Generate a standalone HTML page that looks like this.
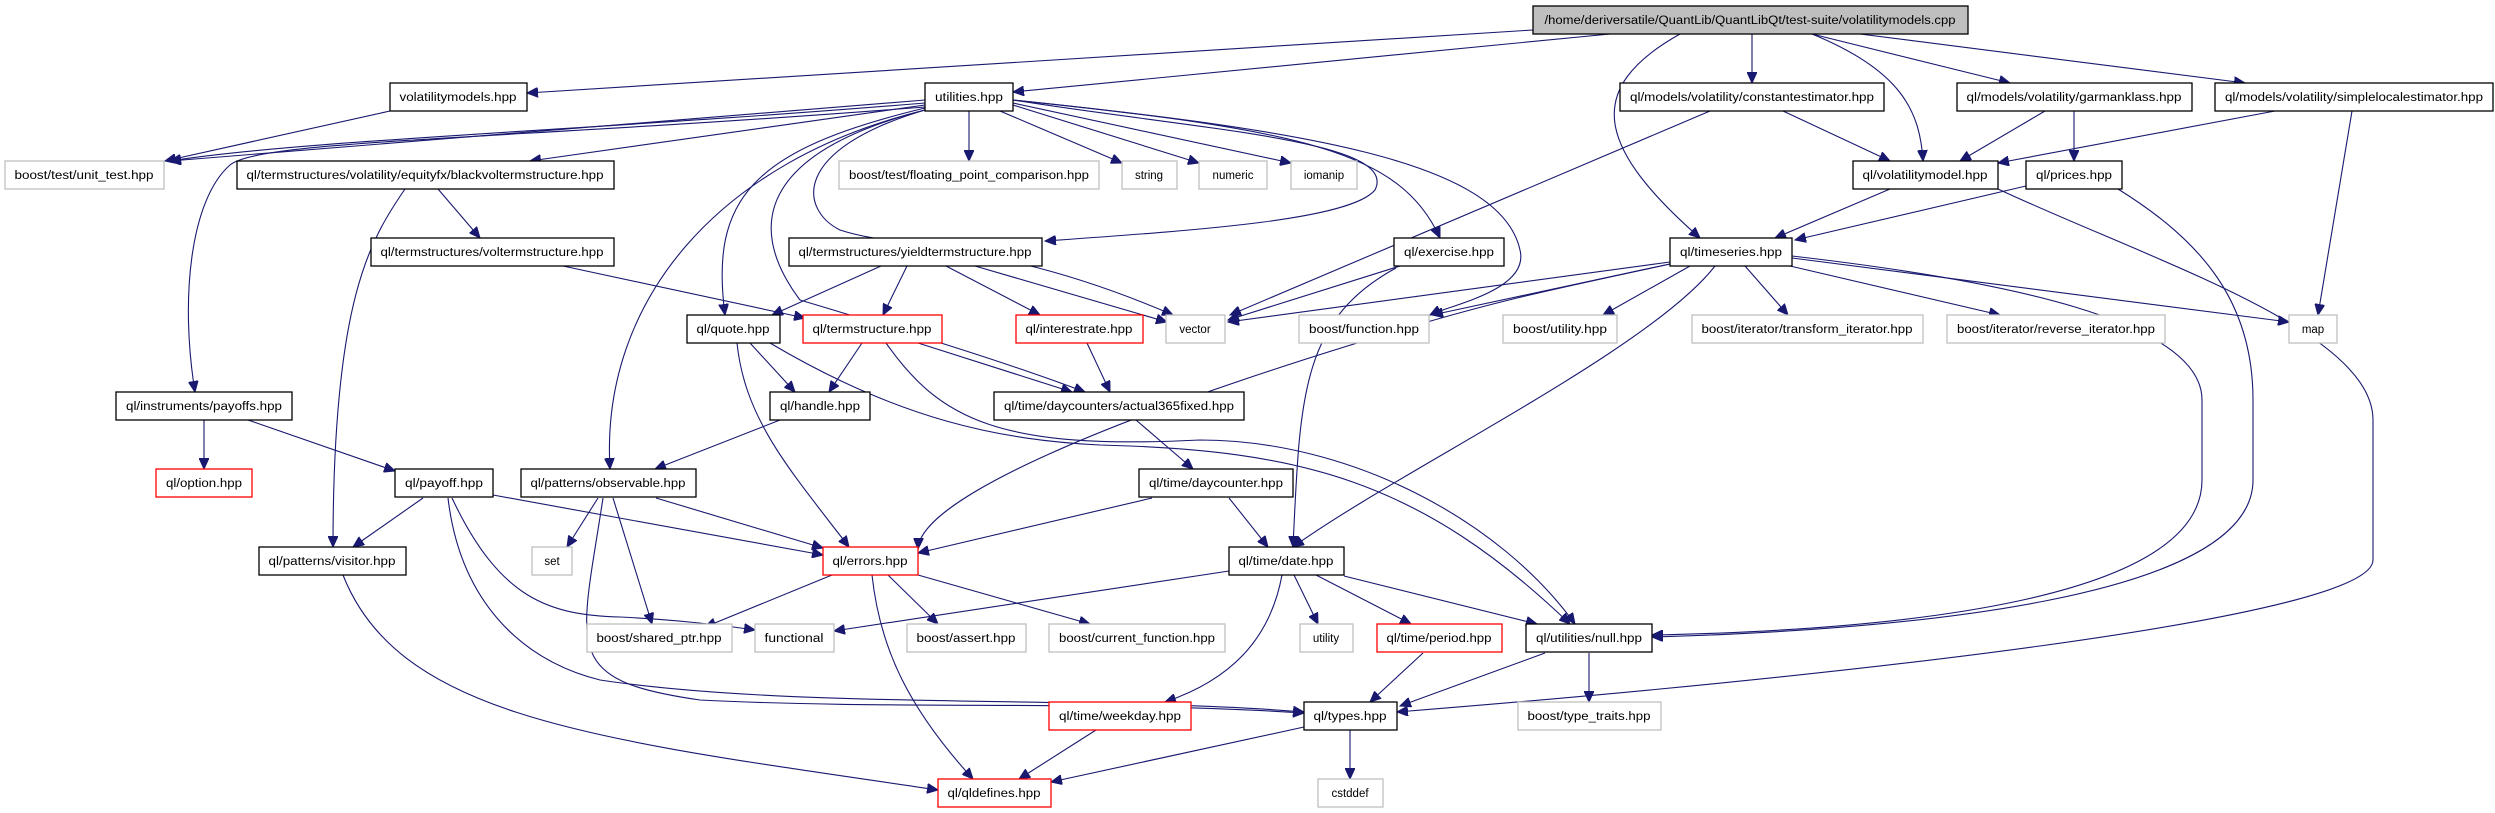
<!DOCTYPE html>
<html><head><meta charset="utf-8"><style>
html,body{margin:0;padding:0;background:#fff;}
svg{display:block;}
text{font-family:"Liberation Sans",sans-serif;font-size:11.5px;fill:#000;text-anchor:middle;}
.b{fill:#fff;stroke:#000;stroke-width:1.3;}
.g{fill:#fff;stroke:#bfbfbf;stroke-width:1.3;}
.r{fill:#fff;stroke:#ff0000;stroke-width:1.3;}
.e{fill:none;stroke:#191970;stroke-width:1.1;}
</style></head><body>
<svg width="2495" height="813" viewBox="0 0 2495 813" xmlns="http://www.w3.org/2000/svg">
<defs><marker id="a" markerUnits="userSpaceOnUse" markerWidth="12" markerHeight="10" refX="11" refY="5" orient="auto"><path d="M0,0 L11,5 L0,10 z" fill="#191970" stroke="#191970"/></marker></defs>
<g class="e" marker-end="url(#a)">
<path d="M1533,30 L527,93"/>
<path d="M1610,34 L1013,92"/>
<path d="M1680,34 C1580,90 1600,150 1700,238"/>
<path d="M1752,34 L1752,83"/>
<path d="M1812,34 C1900,70 1920,110 1923,161"/>
<path d="M1812,34 L2010,83"/>
<path d="M1860,34 L2245,83"/>
<path d="M390,111 L165,161"/>
<path d="M925,100 L170,161"/>
<path d="M925,103 C600,130 300,140 170,161"/>
<path d="M925,105 L530,161"/>
<path d="M925,107 C500,140 260,140 230,165 C190,200 180,300 195,392"/>
<path d="M925,108 C750,150 710,200 725,315"/>
<path d="M925,110 C720,160 600,300 610,469"/>
<path d="M925,110 C770,150 740,220 800,300 C900,330 1000,360 1085,392"/>
<path d="M925,110 C790,150 800,210 840,230 C900,250 1000,240 1173,315"/>
<path d="M969,111 L969,161"/>
<path d="M1000,111 L1122,163"/>
<path d="M1013,105 L1199,163"/>
<path d="M1013,103 L1291,163"/>
<path d="M1013,100 C1200,130 1400,140 1375,190 C1350,220 1200,230 1045,241"/>
<path d="M1013,100 C1300,130 1400,150 1440,238"/>
<path d="M1013,100 C1300,130 1500,160 1520,250 C1530,290 1450,305 1430,315"/>
<path d="M438,189 L480,238"/>
<path d="M405,189 C370,240 333,300 333,547"/>
<path d="M563,266 L805,318"/>
<path d="M881,266 L772,315"/>
<path d="M907,266 L883,315"/>
<path d="M946,266 L1040,315"/>
<path d="M975,266 L1167,322"/>
<path d="M750,343 L795,392"/>
<path d="M737,343 C745,420 790,470 849,547"/>
<path d="M770,343 C900,420 1000,440 1100,445 C1300,450 1420,480 1570,624"/>
<path d="M886,343 C940,420 1000,450 1200,440 C1350,440 1500,520 1575,624"/>
<path d="M862,343 L829,392"/>
<path d="M918,343 L1072,392"/>
<path d="M1087,343 L1110,392"/>
<path d="M1400,266 L1228,320"/>
<path d="M1396,268 C1300,320 1300,400 1293,547"/>
<path d="M1710,111 L1230,315"/>
<path d="M1783,111 L1890,161"/>
<path d="M2045,111 L1960,161"/>
<path d="M2074,111 L2074,161"/>
<path d="M2275,111 L1998,163"/>
<path d="M2352,111 L2318,315"/>
<path d="M1890,189 L1775,238"/>
<path d="M1998,189 C2150,260 2373,330 2373,420 L2373,560 C2373,620 1800,680 1397,712"/>
<path d="M2026,186 L1795,240"/>
<path d="M2118,189 C2200,240 2253,300 2253,400 L2253,480 C2253,600 1900,630 1652,637"/>
<path d="M1670,262 L1228,322"/>
<path d="M1670,264 L1432,315"/>
<path d="M1690,266 L1603,315"/>
<path d="M1745,266 L1788,315"/>
<path d="M1790,266 L2000,315"/>
<path d="M1792,258 L2289,322"/>
<path d="M1792,256 C2000,280 2202,320 2202,400 L2202,480 C2202,600 1900,630 1652,635"/>
<path d="M1670,264 C1550,290 1500,300 1400,330 C1100,420 920,500 918,549"/>
<path d="M1715,266 C1650,350 1400,470 1293,547"/>
<path d="M780,420 L655,469"/>
<path d="M204,420 L204,469"/>
<path d="M248,420 L395,471"/>
<path d="M423,498 L353,547"/>
<path d="M493,495 L823,555"/>
<path d="M452,498 C500,600 550,615 620,617 C680,620 720,625 755,630"/>
<path d="M448,498 C460,600 520,660 600,680 C800,710 1100,695 1304,712"/>
<path d="M598,498 L567,547"/>
<path d="M656,498 L823,548"/>
<path d="M613,498 L652,624"/>
<path d="M603,498 C580,650 560,680 700,700 C900,710 1100,700 1304,713"/>
<path d="M343,575 C400,720 600,740 938,790"/>
<path d="M1136,420 L1193,469"/>
<path d="M1152,498 L918,553"/>
<path d="M1229,498 L1268,547"/>
<path d="M832,575 L705,627"/>
<path d="M888,575 L938,624"/>
<path d="M918,575 L1090,624"/>
<path d="M872,575 C880,650 910,710 973,779"/>
<path d="M1229,571 L834,631"/>
<path d="M1294,575 L1318,624"/>
<path d="M1316,575 L1411,624"/>
<path d="M1344,576 L1537,624"/>
<path d="M1282,575 C1270,640 1230,680 1165,702"/>
<path d="M1423,653 L1370,702"/>
<path d="M1545,653 L1400,706"/>
<path d="M1589,653 L1589,702"/>
<path d="M1304,727 L1051,782"/>
<path d="M1350,730 L1350,779"/>
<path d="M1096,730 L1019,779"/>
</g>
<rect x="1533" y="6" width="435" height="28" fill="#bfbfbf" stroke="#000" stroke-width="1.3"/><text x="1750" y="24" textLength="411" lengthAdjust="spacingAndGlyphs">/home/deriversatile/QuantLib/QuantLibQt/test-suite/volatilitymodels.cpp</text>
<rect class="b" x="390" y="83" width="137" height="28"/><text x="458" y="101" textLength="117" lengthAdjust="spacingAndGlyphs">volatilitymodels.hpp</text>
<rect class="b" x="925" y="83" width="88" height="28"/><text x="969" y="101" textLength="68" lengthAdjust="spacingAndGlyphs">utilities.hpp</text>
<rect class="b" x="1620" y="83" width="264" height="28"/><text x="1752" y="101" textLength="244" lengthAdjust="spacingAndGlyphs">ql/models/volatility/constantestimator.hpp</text>
<rect class="b" x="1957" y="83" width="235" height="28"/><text x="2074" y="101" textLength="215" lengthAdjust="spacingAndGlyphs">ql/models/volatility/garmanklass.hpp</text>
<rect class="b" x="2215" y="83" width="278" height="28"/><text x="2354" y="101" textLength="258" lengthAdjust="spacingAndGlyphs">ql/models/volatility/simplelocalestimator.hpp</text>
<rect class="g" x="5" y="161" width="159" height="28"/><text x="84" y="179" textLength="139" lengthAdjust="spacingAndGlyphs">boost/test/unit_test.hpp</text>
<rect class="b" x="237" y="161" width="377" height="28"/><text x="425" y="179" textLength="357" lengthAdjust="spacingAndGlyphs">ql/termstructures/volatility/equityfx/blackvoltermstructure.hpp</text>
<rect class="g" x="839" y="161" width="260" height="28"/><text x="969" y="179" textLength="240" lengthAdjust="spacingAndGlyphs">boost/test/floating_point_comparison.hpp</text>
<rect class="g" x="1122" y="161" width="55" height="28"/><text x="1149" y="179">string</text>
<rect class="g" x="1199" y="161" width="68" height="28"/><text x="1233" y="179">numeric</text>
<rect class="g" x="1291" y="161" width="66" height="28"/><text x="1324" y="179">iomanip</text>
<rect class="b" x="1853" y="161" width="145" height="28"/><text x="1925" y="179" textLength="125" lengthAdjust="spacingAndGlyphs">ql/volatilitymodel.hpp</text>
<rect class="b" x="2026" y="161" width="96" height="28"/><text x="2074" y="179" textLength="76" lengthAdjust="spacingAndGlyphs">ql/prices.hpp</text>
<rect class="b" x="371" y="238" width="243" height="28"/><text x="492" y="256" textLength="223" lengthAdjust="spacingAndGlyphs">ql/termstructures/voltermstructure.hpp</text>
<rect class="b" x="789" y="238" width="253" height="28"/><text x="915" y="256" textLength="233" lengthAdjust="spacingAndGlyphs">ql/termstructures/yieldtermstructure.hpp</text>
<rect class="b" x="1394" y="238" width="110" height="28"/><text x="1449" y="256" textLength="90" lengthAdjust="spacingAndGlyphs">ql/exercise.hpp</text>
<rect class="b" x="1670" y="238" width="122" height="28"/><text x="1731" y="256" textLength="102" lengthAdjust="spacingAndGlyphs">ql/timeseries.hpp</text>
<rect class="b" x="687" y="315" width="93" height="28"/><text x="733" y="333" textLength="73" lengthAdjust="spacingAndGlyphs">ql/quote.hpp</text>
<rect class="r" x="803" y="315" width="139" height="28"/><text x="872" y="333" textLength="119" lengthAdjust="spacingAndGlyphs">ql/termstructure.hpp</text>
<rect class="r" x="1016" y="315" width="127" height="28"/><text x="1079" y="333" textLength="107" lengthAdjust="spacingAndGlyphs">ql/interestrate.hpp</text>
<rect class="g" x="1166" y="315" width="59" height="28"/><text x="1195" y="333">vector</text>
<rect class="g" x="1299" y="315" width="130" height="28"/><text x="1364" y="333" textLength="110" lengthAdjust="spacingAndGlyphs">boost/function.hpp</text>
<rect class="g" x="1503" y="315" width="114" height="28"/><text x="1560" y="333" textLength="94" lengthAdjust="spacingAndGlyphs">boost/utility.hpp</text>
<rect class="g" x="1692" y="315" width="231" height="28"/><text x="1807" y="333" textLength="211" lengthAdjust="spacingAndGlyphs">boost/iterator/transform_iterator.hpp</text>
<rect class="g" x="1947" y="315" width="218" height="28"/><text x="2056" y="333" textLength="198" lengthAdjust="spacingAndGlyphs">boost/iterator/reverse_iterator.hpp</text>
<rect class="g" x="2289" y="315" width="48" height="28"/><text x="2313" y="333">map</text>
<rect class="b" x="116" y="392" width="176" height="28"/><text x="204" y="410" textLength="156" lengthAdjust="spacingAndGlyphs">ql/instruments/payoffs.hpp</text>
<rect class="b" x="770" y="392" width="100" height="28"/><text x="820" y="410" textLength="80" lengthAdjust="spacingAndGlyphs">ql/handle.hpp</text>
<rect class="b" x="994" y="392" width="250" height="28"/><text x="1119" y="410" textLength="230" lengthAdjust="spacingAndGlyphs">ql/time/daycounters/actual365fixed.hpp</text>
<rect class="r" x="156" y="469" width="96" height="28"/><text x="204" y="487" textLength="76" lengthAdjust="spacingAndGlyphs">ql/option.hpp</text>
<rect class="b" x="395" y="469" width="98" height="28"/><text x="444" y="487" textLength="78" lengthAdjust="spacingAndGlyphs">ql/payoff.hpp</text>
<rect class="b" x="521" y="469" width="175" height="28"/><text x="608" y="487" textLength="155" lengthAdjust="spacingAndGlyphs">ql/patterns/observable.hpp</text>
<rect class="b" x="1139" y="469" width="154" height="28"/><text x="1216" y="487" textLength="134" lengthAdjust="spacingAndGlyphs">ql/time/daycounter.hpp</text>
<rect class="b" x="259" y="547" width="147" height="28"/><text x="332" y="565" textLength="127" lengthAdjust="spacingAndGlyphs">ql/patterns/visitor.hpp</text>
<rect class="g" x="532" y="547" width="40" height="28"/><text x="552" y="565">set</text>
<rect class="r" x="823" y="547" width="95" height="28"/><text x="870" y="565" textLength="75" lengthAdjust="spacingAndGlyphs">ql/errors.hpp</text>
<rect class="b" x="1229" y="547" width="115" height="28"/><text x="1286" y="565" textLength="95" lengthAdjust="spacingAndGlyphs">ql/time/date.hpp</text>
<rect class="g" x="587" y="624" width="145" height="28"/><text x="659" y="642" textLength="125" lengthAdjust="spacingAndGlyphs">boost/shared_ptr.hpp</text>
<rect class="g" x="755" y="624" width="79" height="28"/><text x="794" y="642" textLength="59" lengthAdjust="spacingAndGlyphs">functional</text>
<rect class="g" x="907" y="624" width="119" height="28"/><text x="966" y="642" textLength="99" lengthAdjust="spacingAndGlyphs">boost/assert.hpp</text>
<rect class="g" x="1049" y="624" width="176" height="28"/><text x="1137" y="642" textLength="156" lengthAdjust="spacingAndGlyphs">boost/current_function.hpp</text>
<rect class="g" x="1300" y="624" width="53" height="28"/><text x="1326" y="642">utility</text>
<rect class="r" x="1377" y="624" width="125" height="28"/><text x="1439" y="642" textLength="105" lengthAdjust="spacingAndGlyphs">ql/time/period.hpp</text>
<rect class="b" x="1526" y="624" width="126" height="28"/><text x="1589" y="642" textLength="106" lengthAdjust="spacingAndGlyphs">ql/utilities/null.hpp</text>
<rect class="r" x="1049" y="702" width="142" height="28"/><text x="1120" y="720" textLength="122" lengthAdjust="spacingAndGlyphs">ql/time/weekday.hpp</text>
<rect class="b" x="1304" y="702" width="93" height="28"/><text x="1350" y="720" textLength="73" lengthAdjust="spacingAndGlyphs">ql/types.hpp</text>
<rect class="g" x="1518" y="702" width="143" height="28"/><text x="1589" y="720" textLength="123" lengthAdjust="spacingAndGlyphs">boost/type_traits.hpp</text>
<rect class="r" x="938" y="779" width="113" height="28"/><text x="994" y="797" textLength="93" lengthAdjust="spacingAndGlyphs">ql/qldefines.hpp</text>
<rect class="g" x="1318" y="779" width="65" height="28"/><text x="1350" y="797">cstddef</text>
</svg>
</body></html>
